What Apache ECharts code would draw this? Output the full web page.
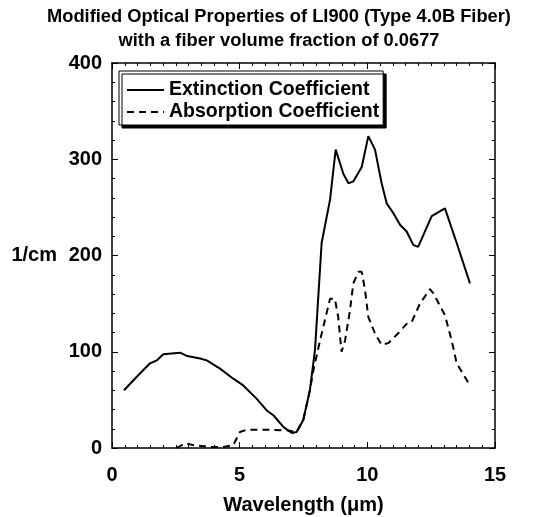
<!DOCTYPE html>
<html><head><meta charset="utf-8">
<script src="https://cdn.jsdelivr.net/npm/echarts@6/dist/echarts.min.js"></script>
<style>html,body{margin:0;padding:0;background:#fff}#c{width:554px;height:517px}</style>
</head><body><div id="c"></div>
<script>
var titleLines = ['Modified Optical Properties of LI900 (Type 4.0B Fiber)', 'with a fiber volume fraction of 0.0677'];
var xName = 'Wavelength (\u03bcm)';
var yName = '1/cm';
var seriesNames = ['Extinction Coefficient', 'Absorption Coefficient'];
var extinction = [
[0.47,60],[0.97,74],[1.49,88],[1.75,91],[2.01,97.5],[2.66,99],[2.95,95.5],[3.45,93],[3.71,91],
[4.23,82.5],[4.75,72],[5.14,65],[5.67,51],[6.06,39],[6.32,34],[6.71,22],[7.04,15.6],[7.23,16.6],
[7.49,29],[7.75,60],[7.95,102],[8.21,213],[8.54,258],[8.76,310],[9.06,285],[9.26,275],[9.45,277],
[9.78,292],[10.04,324],[10.30,310],[10.56,275],[10.76,254],[11.02,244],[11.28,232],[11.54,225],
[11.80,211],[11.99,209],[12.52,241],[13.04,249],[13.50,213],[14.02,171]
];
var absorption = [
[2.53,0],[2.86,5],[3.19,3],[3.84,1],[4.36,1],[4.75,3],[5.01,16.6],[5.27,19],[6.06,19],[6.84,18.4],
[7.23,16.6],[7.49,29],[7.75,60],[7.89,81],[8.15,112],[8.54,155],[8.73,155],[8.86,136],[8.99,100],
[9.13,112],[9.32,143],[9.45,171],[9.65,183],[9.78,183],[9.91,164],[10.04,136],[10.30,119],[10.56,107],
[10.82,109],[11.2,119],[11.54,129],[11.74,131],[12.06,150],[12.45,165],[12.58,161],[13.04,138],
[13.30,112],[13.5,88],[14.02,65]
];
var xTicks = {min:0, max:15, interval:5};
var yTicks = {min:0, max:400, interval:100};
// mirror (frame) axes: same tick spacing, shifted domain so they never snap onto the zero line
var mirrorShift = 1000;

var FONT = 'Arial, "Liberation Sans", sans-serif';
var chart = echarts.init(document.getElementById('c'), null, {renderer:'canvas'});
function axisCommon(show){
  return {
    axisLine:{show:true, onZero:false, lineStyle:{color:'#000', width:1.5}},
    axisTick:{show:true, inside:true, length:6, lineStyle:{color:'#000', width:1}},
    minorTick:{show:true, splitNumber:5, length:3, lineStyle:{color:'#000', width:1}},
    splitLine:{show:false},
    axisLabel:{show:show, color:'#000', fontFamily:FONT, fontWeight:'bold', fontSize:20}
  };
}
var xb = Object.assign({type:'value', position:'bottom', min:xTicks.min, max:xTicks.max, interval:xTicks.interval,
  name:xName, nameLocation:'middle', nameGap:57, nameMoveOverlap:false,
  nameTextStyle:{color:'#000', fontFamily:FONT, fontWeight:'bold', fontSize:20, verticalAlign:'middle'}}, axisCommon(true));
xb.minorTick.splitNumber = 10;
xb.axisLabel.margin = 17;
var xt = Object.assign({type:'value', position:'top', min:xTicks.min + mirrorShift, max:xTicks.max + mirrorShift,
  interval:xTicks.interval}, axisCommon(false));
xt.minorTick.splitNumber = 10;
var yl = Object.assign({type:'value', position:'left', min:yTicks.min, max:yTicks.max, interval:yTicks.interval,
  name:yName, nameLocation:'middle', nameRotate:0, nameGap:55, nameMoveOverlap:false,
  nameTextStyle:{color:'#000', fontFamily:FONT, fontWeight:'bold', fontSize:20, align:'right', verticalAlign:'middle'}}, axisCommon(true));
yl.axisLabel.margin = 10;
var yr = Object.assign({type:'value', position:'right', min:yTicks.min + mirrorShift, max:yTicks.max + mirrorShift,
  interval:yTicks.interval}, axisCommon(false));

chart.setOption({
  backgroundColor:'#fff',
  animation:false,
  title:{text:titleLines.join('\n'), left:274, top:0, textAlign:'center',
    textStyle:{color:'#000', fontFamily:FONT, fontWeight:'bold', fontSize:18.3, lineHeight:24}},
  grid:{left:112, right:59, top:63, bottom:69, containLabel:false, outerBoundsMode:'none'},
  legend:{left:119, top:71, z:10, orient:'vertical', itemWidth:37, itemHeight:14, itemGap:2,
    padding:[9,4,3,7], backgroundColor:'#fff', borderColor:'#000', borderWidth:1,
    shadowColor:'#000', shadowOffsetX:3, shadowOffsetY:3, shadowBlur:0,
    selectedMode:false, itemStyle:{opacity:0},
    textStyle:{color:'#000', fontFamily:FONT, fontWeight:'bold', fontSize:19.5},
    data:seriesNames},
  xAxis:[xb, xt],
  yAxis:[yl, yr],
  series:[
    {name:seriesNames[0], type:'line', data:extinction, symbol:'none', xAxisIndex:0, yAxisIndex:0,
      lineStyle:{color:'#000', width:2}, itemStyle:{color:'#000'}},
    {name:seriesNames[1], type:'line', data:absorption, symbol:'none', xAxisIndex:0, yAxisIndex:0,
      lineStyle:{color:'#000', width:2, type:[7,5]}, itemStyle:{color:'#000'}}
  ]
});
</script></body></html>
